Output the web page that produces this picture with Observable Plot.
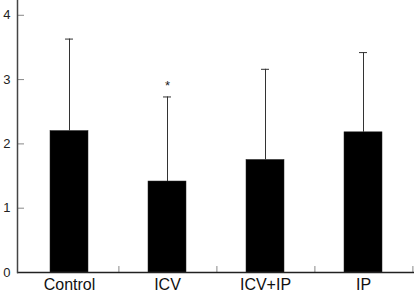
<!DOCTYPE html>
<html>
<head>
<meta charset="utf-8">
<script src="https://cdn.jsdelivr.net/npm/d3@7"></script>
<script src="https://cdn.jsdelivr.net/npm/@observablehq/plot@0.6"></script>
<style>
  body { margin: 0; background: #fff; }
  #chart svg { display: block; }
</style>
</head>
<body>
<div id="chart"></div>
<script>
const categories = ["Control", "ICV", "ICV+IP", "IP"];
const means = [2.20, 1.415, 1.75, 2.18];
const sds = [1.43, 1.315, 1.41, 1.24];
const marks = ["", "*", "", ""];
const yTicks = [0, 1, 2, 3, 4];

const data = categories.map((c, i) => ({cat: c, mean: means[i], top: means[i] + sds[i], mark: marks[i]}));

const chart = Plot.plot({
  width: 414,
  height: 294,
  marginLeft: 19,
  marginRight: 0,
  marginTop: 0,
  marginBottom: 22,
  style: {fontFamily: "Liberation Sans, Arial, sans-serif", background: "#fff"},
  x: {domain: categories, paddingInner: 0.61, paddingOuter: 0.305, label: null},
  y: {domain: [0, 4.23], label: null},
  marks: [
    Plot.barY(data, {x: "cat", y: "mean", fill: "#000", stroke: "#222", strokeWidth: 0.5}),
    Plot.ruleX(data, {x: "cat", y1: "mean", y2: "top", stroke: "#333", strokeWidth: 1}),
    Plot.tickY(data, {x: "cat", y: "top", stroke: "#333", strokeWidth: 1, insetLeft: 15, insetRight: 15}),
    Plot.text(data, {x: "cat", y: "top", text: "mark", dy: -11, fontSize: 13, fill: "#222"}),
    // category boundary ticks on the bottom axis
    Plot.ruleX(data, {x: "cat", dx: 49.4, y1: 0, y2: 0.093, stroke: "#888", strokeWidth: 1}),
    // y axis ticks (inner) and labels
    Plot.axisY(yTicks, {tickSize: -7, dx: -2, stroke: "#888", text: null, label: null}),
    Plot.axisY(yTicks, {tickSize: 0, tickPadding: 9, fontSize: 13, fill: "#222", textAnchor: "end", tickFormat: d => String(d), label: null}),
    Plot.axisX({tickSize: 0, tickPadding: 6, fontSize: 16, fill: "#111", label: null}),
    // axis lines
    Plot.ruleY([0], {stroke: "#222", strokeWidth: 1.5, insetLeft: -2}),
    Plot.frame({anchor: "left", stroke: "#444", strokeWidth: 1.5, dx: -2})
  ]
});
document.getElementById("chart").appendChild(chart);
</script>
</body>
</html>
